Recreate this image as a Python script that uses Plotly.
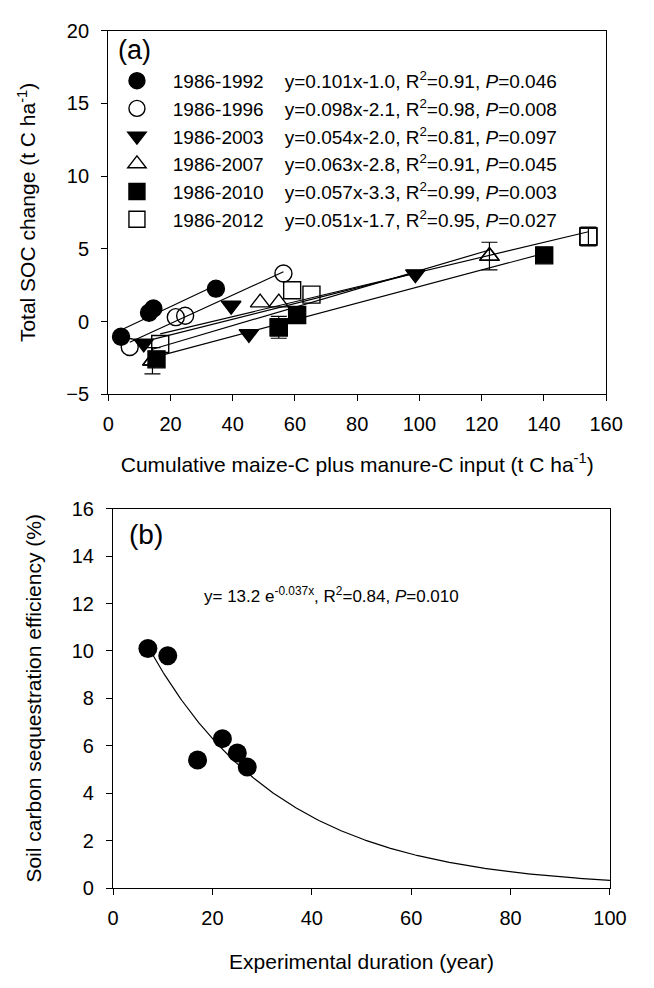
import numpy as np
import plotly.graph_objects as go

W, H = 654, 988
FONT = "Liberation Sans, Arial, sans-serif"

# ---------------- Panel (a) data ----------------
periods = ["1986-1992", "1986-1996", "1986-2003", "1986-2007", "1986-2010", "1986-2012"]
cum_input = [
    [4.1, 13.1, 14.5, 34.6],
    [6.9, 21.7, 24.7, 56.3],
    [11.4, 39.5, 45.2, 98.7],
    [14.2, 48.8, 54.8, 122.5],
    [15.5, 54.8, 60.7, 140.1],
    [16.7, 59.1, 65.3, 154.3],
]
soc_change = [
    [-1.05, 0.6, 0.9, 2.26],
    [-1.75, 0.3, 0.4, 3.3],
    [-1.5, 1.1, -0.85, 3.26],
    [-2.7, 1.3, 1.3, 4.5],
    [-2.6, -0.4, 0.45, 4.55],
    [-1.55, 2.15, 1.85, 5.84],
]
soc_err = [
    [None, None, None, None],
    [None, None, None, None],
    [None, None, None, None],
    [0.9, None, None, 0.95],
    [None, 0.75, None, None],
    [None, None, None, 0.65],
]
slopes = [0.101, 0.098, 0.054, 0.063, 0.057, 0.051]
intercepts = [-1.0, -2.1, -2.0, -2.8, -3.3, -1.7]
r2_vals = ["0.91", "0.98", "0.81", "0.91", "0.99", "0.95"]
p_vals = ["0.046", "0.008", "0.097", "0.045", "0.003", "0.027"]
symbols = ["circle", "circle-open", "triangle-down", "triangle-up-open", "square", "square-open"]

# ---------------- Panel (b) data ----------------
duration = [7, 11, 17, 22, 25, 27]
efficiency = [10.1, 9.8, 5.4, 6.3, 5.7, 5.1]
exp_a, exp_b = 13.2, -0.037

fig = go.Figure()

NB = "\u00a0"
for i, per in enumerate(periods):
    xs = cum_input[i]
    ys = soc_change[i]
    # regression line
    xl = np.array([min(xs), max(xs)])
    fig.add_trace(go.Scatter(x=xl, y=slopes[i] * xl + intercepts[i], mode="lines",
                             line=dict(color="black", width=1.2), showlegend=False,
                             hoverinfo="skip", xaxis="x", yaxis="y"))
    # error bars
    ex = [x for x, e in zip(xs, soc_err[i]) if e is not None]
    ey = [y for y, e in zip(ys, soc_err[i]) if e is not None]
    ee = [e for e in soc_err[i] if e is not None]
    if ee:
        fig.add_trace(go.Scatter(x=ex, y=ey, mode="markers",
                                 marker=dict(symbol=symbols[i], size=17, color="black",
                                             line=dict(color="black", width=1.4)),
                                 error_y=dict(type="data", array=ee, visible=True,
                                              color="black", thickness=1.2, width=8),
                                 showlegend=False, xaxis="x", yaxis="y"))
    name = (NB * 3 + per + NB * 4 + "y=%.3fx%.1f, R<sup>2</sup>=%s, <i>P</i>=%s"
            % (slopes[i], intercepts[i], r2_vals[i], p_vals[i]))
    fig.add_trace(go.Scatter(x=xs, y=ys, mode="markers", name=name,
                             legendgroup="g%d" % i,
                             marker=dict(symbol=symbols[i], size=17, color="black",
                                         line=dict(color="black", width=1.4)),
                             xaxis="x", yaxis="y"))

# panel (b)
xc = np.linspace(min(duration), 100, 300)
fig.add_trace(go.Scatter(x=xc, y=exp_a * np.exp(exp_b * xc), mode="lines",
                         line=dict(color="black", width=1.2), showlegend=False,
                         xaxis="x2", yaxis="y2"))
fig.add_trace(go.Scatter(x=duration, y=efficiency, mode="markers",
                         marker=dict(symbol="circle", size=19, color="black"),
                         showlegend=False, xaxis="x2", yaxis="y2"))

axis_common = dict(showline=True, linecolor="black", linewidth=1.3, mirror=True,
                   ticks="outside", ticklen=6, tickwidth=1.3, tickcolor="black",
                   showgrid=False, zeroline=False,
                   tickfont=dict(family=FONT, size=20, color="black"))

fig.update_layout(
    width=W, height=H,
    margin=dict(l=0, r=0, t=0, b=0),
    paper_bgcolor="white", plot_bgcolor="white",
    font=dict(family=FONT, color="black"),
    xaxis=dict(domain=[106 / W, 622 / W], range=[0, 160], tickvals=list(range(0, 161, 20)),
               anchor="y", ticklabelstandoff=6,
               title=dict(text="Cumulative maize-C plus manure-C input (t C ha<sup>-1</sup>)",
                          font=dict(size=21), standoff=22), **axis_common),
    yaxis=dict(domain=[1 - 392 / H, 1 - 20 / H], range=[-5, 20], tickvals=list(range(-5, 21, 5)),
               anchor="x", ticklabelstandoff=8,
               title=dict(text="Total SOC change (t C ha<sup>-1</sup>)", font=dict(size=21),
                          standoff=24), **axis_common),
    xaxis2=dict(domain=[111 / W, 626 / W], range=[0, 100], tickvals=list(range(0, 101, 20)),
                anchor="y2", ticklabelstandoff=6,
                title=dict(text="Experimental duration (year)", font=dict(size=21), standoff=26),
                **axis_common),
    yaxis2=dict(domain=[1 - 897 / H, 1 - 509 / H], range=[0, 16], tickvals=list(range(0, 17, 2)),
                anchor="x2", ticklabelstandoff=8,
                title=dict(text="Soil carbon sequestration efficiency (%)", font=dict(size=21),
                           standoff=24), **axis_common),
    legend=dict(x=115 / W, y=1 - 52 / H, xanchor="left", yanchor="top",
                bgcolor="rgba(0,0,0,0)", borderwidth=0, tracegroupgap=0,
                font=dict(family=FONT, size=19, color="black")),
    showlegend=True,
    annotations=[
        dict(text="(a)", x=133 / W, y=1 - 40 / H, xref="paper", yref="paper",
             showarrow=False, font=dict(size=27), xanchor="center", yanchor="middle"),
        dict(text="(b)", x=145 / W, y=1 - 535 / H, xref="paper", yref="paper",
             showarrow=False, font=dict(size=28), xanchor="center", yanchor="middle"),
        dict(text="y=" + NB + "13.2" + NB + "e<sup>-0.037x</sup>, R<sup>2</sup>=0.84, <i>P</i>=0.010",
             x=203 / W, y=1 - 597 / H, xref="paper", yref="paper", showarrow=False,
             font=dict(size=17), xanchor="left", yanchor="middle"),
    ],
)

fig.write_html("out.html")
